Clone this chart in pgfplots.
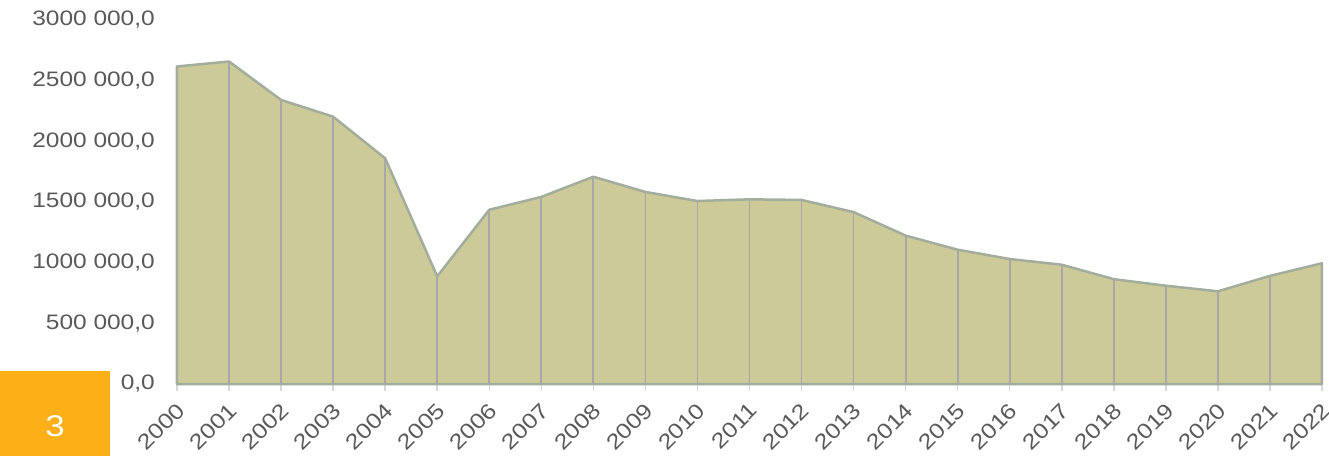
\documentclass[border=0pt]{standalone}
\usepackage{pgfplots}
\pgfplotsset{compat=1.18}
\usepackage{fontspec}
\setmainfont{Liberation Sans}[FakeStretch=1.17]
\definecolor{areafill}{HTML}{CDCA9A}
\definecolor{areaedge}{HTML}{A3AD9C}
\definecolor{dropline}{HTML}{A8A8A8}
\definecolor{gridc}{HTML}{EFEFEF}
\definecolor{axisc}{HTML}{D9D9D9}
\definecolor{labc}{HTML}{595959}
\definecolor{boxc}{HTML}{FCAF17}
\begin{document}
\begin{tikzpicture}
\begin{axis}[
  at={(0,0)}, anchor=south west,
  scale only axis,
  width=1145bp, height=364bp,
  xmin=0, xmax=22, ymin=0, ymax=3000000,
  axis y line=none,
  axis x line*=bottom,
  x axis line style={draw=axisc, line width=1.5bp},
  xtick={0,...,22},
  xticklabels={2000,2001,2002,2003,2004,2005,2006,2007,2008,2009,2010,2011,2012,2013,2014,2015,2016,2017,2018,2019,2020,2021,2022},
  x tick style={draw=axisc, line width=1.5bp},
  tick align=outside,
  major tick length=7bp,
  xticklabel style={rotate=45, anchor=east, font=\fontsize{21.5}{24}\selectfont, text=labc, xshift=-5bp, yshift=-14bp},
  ytick={0,500000,1000000,1500000,2000000,2500000,3000000},
  yticklabels={{0,0},{500 000,0},{1000 000,0},{1500 000,0},{2000 000,0},{2500 000,0},{3000 000,0}},
  ymajorgrids,
  grid style={draw=gridc, line width=1.5bp},
  clip=false,
]
\addplot[draw=areaedge, line width=2.5bp, fill=areafill, line join=round] coordinates {
(0,0) (0,2617000) (1,2658000) (2,2341000) (3,2203000) (4,1860000) (5,887000)
(6,1436000) (7,1542000) (8,1708000) (9,1583000) (10,1508000) (11,1522000)
(12,1517000) (13,1417000) (14,1223000) (15,1107000) (16,1030000) (17,983000)
(18,864000) (19,810000) (20,764000) (21,891000) (22,995000) (22,0)} -- cycle;
\addplot[ycomb, draw=dropline, line width=1.8bp, mark=none] coordinates {
(1,2658000) (2,2341000) (3,2203000) (4,1860000) (5,887000)
(6,1436000) (7,1542000) (8,1708000) (9,1583000) (10,1508000) (11,1522000)
(12,1517000) (13,1417000) (14,1223000) (15,1107000) (16,1030000) (17,983000)
(18,864000) (19,810000) (20,764000) (21,891000)};
\foreach \v/\t in {0/{0,0},500000/{500 000,0},1000000/{1000 000,0},1500000/{1500 000,0},2000000/{2000 000,0},2500000/{2500 000,0},3000000/{3000 000,0}}{
  \edef\temp{\noexpand\node[anchor=east, text=labc, font=\noexpand\fontsize{21}{24}\noexpand\selectfont, inner sep=0pt] at (axis cs:0,\v) [xshift=-22bp] {\t};}
  \temp
}
\end{axis}
\fill[boxc] (-177bp,-72bp) rectangle (-67bp,13bp);
\node[text=white, font=\fontsize{30}{32}\selectfont] at (-122bp,-42bp) {3};
\pgfresetboundingbox
\path[use as bounding box] (-177bp,-72bp) rectangle (1152bp,384bp);
\end{tikzpicture}
\end{document}
